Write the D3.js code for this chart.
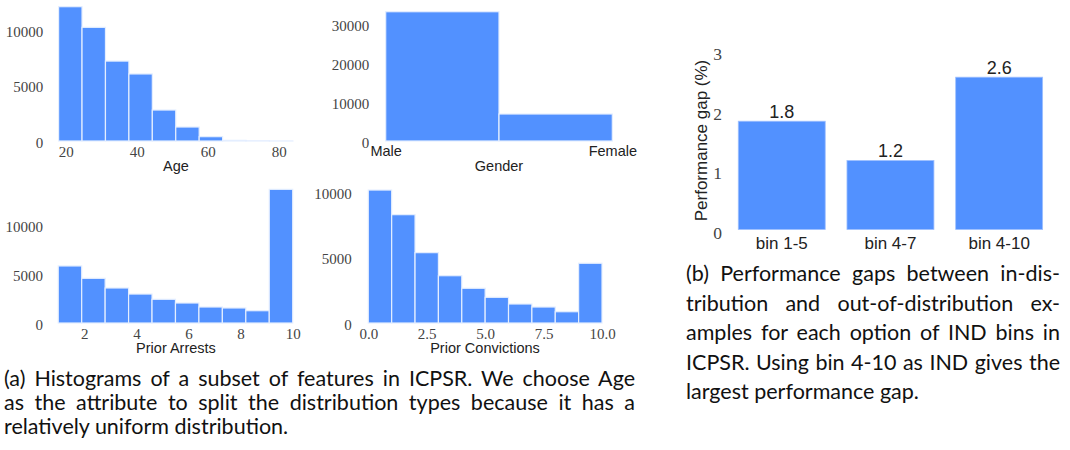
<!DOCTYPE html>
<meta charset="utf-8">
<style>
    body {
        margin: 0;
        background: #fff;
    }

    .tick text {
        font-family: "Liberation Serif", serif;
        font-size: 15px;
        fill: #444;
    }

    .sans .tick text,
    .alabel {
        font-family: "Liberation Sans", sans-serif;
        font-size: 14.5px;
        fill: #222;
    }

    .big .tick text {
        font-size: 17.5px;
    }

    .big.sans .tick text,
    .big .alabel,
    .vlabel {
        font-size: 17px;
    }

    .vlabel {
        font-family: "Liberation Sans", sans-serif;
        fill: #222;
    }

    .cap {
        font-family: Lato, sans-serif;
        fill: #111;
    }
</style>
<body>
    <script src="https://cdn.jsdelivr.net/npm/d3@7"></script>
    <script>

        // histogram data (bin edges + counts)
        var ageEdges = [18, 24.6, 31.2, 37.8, 44.4, 51, 57.6, 64.2, 70.8, 77.4, 84];
        var ageCounts = [12100, 10240, 7200, 6040, 2790, 1260, 390, 60, 8, 2];

        var genderEdges = [0, 0.5, 1];
        var genderCounts = [33150, 6920];
        var genderLabels = ["Male", "Female"];

        var arrestEdges = [1, 1.9, 2.8, 3.7, 4.6, 5.5, 6.4, 7.3, 8.2, 9.1, 10];
        var arrestCounts = [5850, 4580, 3590, 2970, 2430, 2050, 1640, 1540, 1260, 13710];

        var convEdges = [0, 1, 2, 3, 4, 5, 6, 7, 8, 9, 10];
        var convCounts = [10150, 8270, 5370, 3610, 2650, 1960, 1450, 1220, 860, 4560];

        // right panel
        var gapBins = ["bin 1-5", "bin 4-7", "bin 4-10"];
        var gapValues = [1.82, 1.16, 2.56];

        var captionA = [
            "(a) Histograms of a subset of features in ICPSR. We choose Age",
            "as the attribute to split the distribution types because it has a",
            "relatively uniform distribution."
        ];
        var captionB = [
            "(b) Performance gaps between in-dis-",
            "tribution and out-of-distribution ex-",
            "amples for each option of IND bins in",
            "ICPSR. Using bin 4-10 as IND gives the",
            "largest performance gap."
        ];

        var blue = "#5291ff";

        var svg = d3.select("body").append("svg")
            .attr("width", 1070)
            .attr("height", 450);

        function hist(o) {
            var g = svg.append("g");
            var bins = o.counts.map(function (c, i) {
                return { x0: o.edges[i], x1: o.edges[i + 1], c: c };
            });

            g.selectAll("rect")
                .data(bins)
                .enter().append("rect")
                .attr("x", function (d) { return o.x(d.x0); })
                .attr("width", function (d) { return o.x(d.x1) - o.x(d.x0); })
                .attr("y", function (d) { return o.y(d.c); })
                .attr("height", function (d) { return o.y(0) - o.y(d.c); })
                .attr("fill", blue)
                .attr("stroke", "#e4eeff")
                .attr("stroke-width", 1.2);

            // y axis, labels only
            var ya = g.append("g")
                .attr("transform", "translate(" + o.yAt + ",0)")
                .call(d3.axisLeft(o.y).tickValues(o.yTicks).tickSize(0).tickPadding(o.yPad)
                    .tickFormat(d3.format("d")));
            ya.select(".domain").remove();
            ya.selectAll("text").attr("dy", "0.42em");

            var xa = g.append("g")
                .attr("class", o.xClass || "")
                .attr("transform", "translate(0," + o.y(0) + ")")
                .call(d3.axisBottom(o.x).tickValues(o.xTicks).tickSize(0).tickPadding(5)
                    .tickFormat(o.xFormat));
            xa.select(".domain").remove();

            g.append("text")
                .attr("class", "alabel")
                .attr("x", o.labelX)
                .attr("y", o.labelY)
                .attr("text-anchor", "middle")
                .text(o.label);
        }

        hist({
            edges: ageEdges, counts: ageCounts,
            x: d3.scaleLinear().domain([20, 80]).range([65.7, 278.7]),
            y: d3.scaleLinear().domain([0, 10000]).range([141, 30]),
            yAt: 58.7, yPad: 15.5, yTicks: [0, 5000, 10000],
            xTicks: [20, 40, 60, 80], xFormat: d3.format("d"),
            label: "Age", labelX: 176, labelY: 171
        });

        hist({
            edges: genderEdges, counts: genderCounts,
            x: d3.scaleLinear().domain([0, 1]).range([385.7, 612.3]),
            y: d3.scaleLinear().domain([0, 30000]).range([141, 24]),
            yAt: 385.7, yPad: 16.5, yTicks: [0, 10000, 20000, 30000],
            xTicks: [0, 1], xFormat: function (d) { return genderLabels[d]; }, xClass: "sans",
            label: "Gender", labelX: 499, labelY: 170.5
        });

        hist({
            edges: arrestEdges, counts: arrestCounts,
            x: d3.scaleLinear().domain([2, 10]).range([84.3, 292.7]),
            y: d3.scaleLinear().domain([0, 10000]).range([323, 225.5]),
            yAt: 58.3, yPad: 15.3, yTicks: [0, 5000, 10000],
            xTicks: [2, 4, 6, 8, 10], xFormat: d3.format("d"),
            label: "Prior Arrests", labelX: 176, labelY: 352.7
        });

        hist({
            edges: convEdges, counts: convCounts,
            x: d3.scaleLinear().domain([0, 10]).range([368.3, 602]),
            y: d3.scaleLinear().domain([0, 10000]).range([323, 192]),
            yAt: 368.3, yPad: 16.6, yTicks: [0, 5000, 10000],
            xTicks: [0, 2.5, 5, 7.5, 10], xFormat: d3.format(".1f"),
            label: "Prior Convictions", labelX: 485, labelY: 352.7
        });

        // (b) bar chart
        var bx = d3.scaleBand().domain(gapBins).range([727.4, 1053.5])
            .paddingInner(0.2).paddingOuter(0.1);
        var by = d3.scaleLinear().domain([0, 3]).range([229.5, 51]);

        var gb = svg.append("g").attr("class", "big");

        gb.selectAll("rect")
            .data(gapValues)
            .enter().append("rect")
            .attr("x", function (d, i) { return bx(gapBins[i]); })
            .attr("width", bx.bandwidth())
            .attr("y", function (d) { return by(d); })
            .attr("height", function (d) { return by(0) - by(d); })
            .attr("fill", blue)
            .attr("stroke", "#9fc0ff")
            .attr("stroke-width", 0.8);

        gb.selectAll(".val")
            .data(gapValues)
            .enter().append("text")
            .attr("class", "vlabel")
            .attr("x", function (d, i) { return bx(gapBins[i]) + bx.bandwidth() / 2; })
            .attr("y", function (d) { return by(d) - 3.5; })
            .attr("text-anchor", "middle")
            .style("font-size", "18px")
            .text(function (d) { return d.toFixed(1); });

        var bya = gb.append("g")
            .attr("transform", "translate(727,0)")
            .call(d3.axisLeft(by).ticks(3).tickSize(0).tickPadding(5).tickFormat(d3.format("d")));
        bya.select(".domain").remove();
        bya.selectAll("text").attr("dy", "0.5em");

        var bxa = gb.append("g")
            .attr("class", "big sans")
            .attr("transform", "translate(0," + by(0) + ")")
            .call(d3.axisBottom(bx).tickSize(0).tickPadding(7));
        bxa.select(".domain").remove();

        gb.append("text")
            .attr("class", "vlabel")
            .attr("transform", "translate(707,140.5) rotate(-90)")
            .attr("text-anchor", "middle")
            .text("Performance gap (%)");

        // captions, justified like the paper
        function caption(lines, x, y, lh, w, size) {
            lines.forEach(function (s, i) {
                var t = svg.append("text")
                    .attr("class", "cap")
                    .attr("x", x)
                    .attr("y", y + i * lh)
                    .style("font-size", size + "px")
                    .text(s);
                if (i < lines.length - 1) {
                    var len = t.node().getComputedTextLength();
                    var n = s.split(" ").length - 1;
                    if (len > w) {
                        t.attr("textLength", w).attr("lengthAdjust", "spacingAndGlyphs");
                    } else if (n > 0) {
                        t.style("word-spacing", ((w - len) / n) + "px");
                    }
                }
            });
        }

        caption(captionA, 4, 386, 24.2, 631, 21.5);
        caption(captionB, 686, 281, 29.5, 374, 21.5);

    </script>
</body>
